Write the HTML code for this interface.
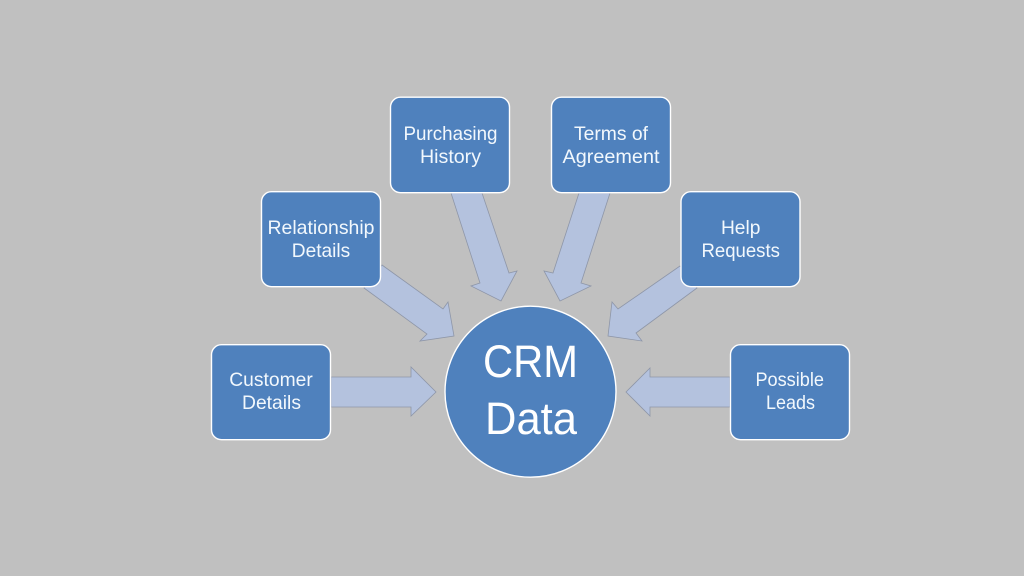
<!DOCTYPE html>
<html>
<head>
<meta charset="utf-8">
<style>
html,body{margin:0;padding:0;background:#c0c0c0;width:1024px;height:576px;overflow:hidden}
svg{display:block}
text{font-family:"Liberation Sans",sans-serif;fill:#f2f8fd;text-anchor:middle}
.s{font-size:19.5px}
.b{font-size:45px;fill:#fff}
.a{fill:#b4c2de;stroke:#8e96a8;stroke-width:.8}
.n{fill:#4f81bd;stroke:#fff;stroke-width:1.4}
</style>
</head>
<body>
<svg width="1024" height="576" viewBox="0 0 1024 576" xmlns="http://www.w3.org/2000/svg">
<rect width="1024" height="576" fill="#c0c0c0"/>
<polygon class="a" points="331,377 411,377 411,367 436,392 411,416 411,407 331,407"/>
<polygon class="a" points="382,265 443,309 448,302 454,336 420,341 427,334 364,288"/>
<polygon class="a" points="451,193 480,283 471,286 501,301 517,271 509,273 482,193"/>
<polygon class="a" points="579,193 553,273 544,271 560,301 591,286 581,283 610,193"/>
<polygon class="a" points="680,266 618,309 612,302 608,336 642,341 636,333 697,288"/>
<polygon class="a" points="730,377 650,377 650,368 626,392 650,416 650,407 730,407"/>
<rect class="n" x="211.5" y="344.7" width="119" height="95" rx="10"/>
<rect class="n" x="261.5" y="191.7" width="119" height="95" rx="10"/>
<rect class="n" x="390.5" y="97.2" width="119" height="95.500" rx="10"/>
<rect class="n" x="551.500" y="97.2" width="119" height="95.500" rx="10"/>
<rect class="n" x="681" y="191.7" width="119" height="95" rx="10"/>
<rect class="n" x="730.5" y="344.7" width="119" height="95" rx="10"/>
<circle class="n" cx="530.500" cy="391.700" r="85.500"/>
<text class="s" x="271" y="386" textLength="83.500" lengthAdjust="spacingAndGlyphs">Customer</text>
<text class="s" x="271.500" y="409" textLength="59" lengthAdjust="spacingAndGlyphs">Details</text>
<text class="s" x="321" y="234" textLength="107" lengthAdjust="spacingAndGlyphs">Relationship</text>
<text class="s" x="321" y="257" textLength="58.500" lengthAdjust="spacingAndGlyphs">Details</text>
<text class="s" x="450.500" y="140" textLength="94" lengthAdjust="spacingAndGlyphs">Purchasing</text>
<text class="s" x="450.500" y="163" textLength="61" lengthAdjust="spacingAndGlyphs">History</text>
<text class="s" x="611" y="140" textLength="74" lengthAdjust="spacingAndGlyphs">Terms of</text>
<text class="s" x="611" y="163" textLength="97" lengthAdjust="spacingAndGlyphs">Agreement</text>
<text class="s" x="740.700" y="234" textLength="39.500" lengthAdjust="spacingAndGlyphs">Help</text>
<text class="s" x="740.700" y="257" textLength="78.500" lengthAdjust="spacingAndGlyphs">Requests</text>
<text class="s" x="789.700" y="386" textLength="68.500" lengthAdjust="spacingAndGlyphs">Possible</text>
<text class="s" x="790.500" y="409" textLength="49" lengthAdjust="spacingAndGlyphs">Leads</text>
<text class="b" x="530.500" y="377" textLength="95" lengthAdjust="spacingAndGlyphs">CRM</text>
<text class="b" x="531" y="434" textLength="92" lengthAdjust="spacingAndGlyphs">Data</text>
</svg>
</body>
</html>
